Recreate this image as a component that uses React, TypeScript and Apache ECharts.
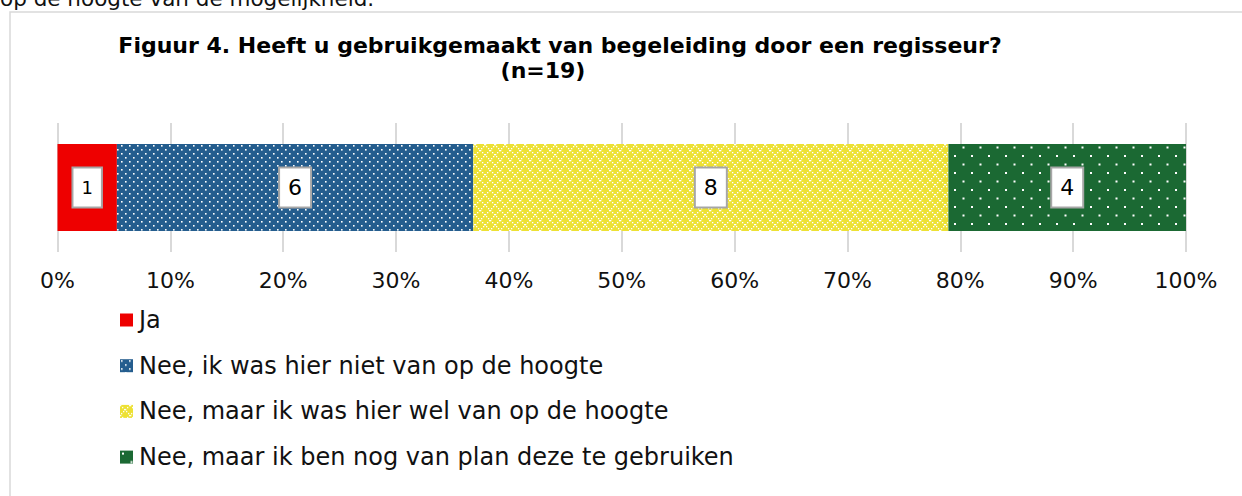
import React, { useEffect, useRef } from "react";
import * as echarts from "echarts";

const categories = ["Begeleiding door regisseur"];
const seriesNames = [
  "Ja",
  "Nee, ik was hier niet van op de hoogte",
  "Nee, maar ik was hier wel van op de hoogte",
  "Nee, maar ik ben nog van plan deze te gebruiken",
];
const counts = [1, 6, 8, 4];
const tickValues = [0, 10, 20, 30, 40, 50, 60, 70, 80, 90, 100];
const titleLine1 = "Figuur 4. Heeft u gebruikgemaakt van begeleiding door een regisseur?";
const titleLine2 = "(n=19)";
const topText = "op de hoogte van de mogelijkheid.";

const FONT = "DejaVu Sans";

function makeCanvas(w: number, h: number, bg: string) {
  const c = document.createElement("canvas");
  c.width = w;
  c.height = h;
  const ctx = c.getContext("2d")!;
  ctx.fillStyle = bg;
  ctx.fillRect(0, 0, w, h);
  return { c, ctx };
}

function bluePattern() {
  const { c, ctx } = makeCanvas(8, 8, "#245D8E");
  ctx.fillStyle = "#ffffff";
  ctx.fillRect(1, 1, 1.6, 1.6);
  ctx.fillRect(5, 5, 1.6, 1.6);
  return { image: c, repeat: "repeat" as const, imageWidth: 8, imageHeight: 8 };
}

function yellowPattern() {
  const { c, ctx } = makeCanvas(10, 10, "#EDE134");
  ctx.fillStyle = "#ffffff";
  for (let i = 0; i < 10; i += 2) {
    ctx.fillRect(i, i, 1.3, 1.3);
    ctx.fillRect(9 - i, i, 1.3, 1.3);
  }
  return { image: c, repeat: "repeat" as const, imageWidth: 10, imageHeight: 10 };
}

function greenPattern() {
  const { c, ctx } = makeCanvas(17, 17, "#1B6933");
  ctx.fillStyle = "#ffffff";
  ctx.fillRect(2, 2, 2, 2);
  ctx.fillRect(10.5, 10.5, 2, 2);
  return { image: c, repeat: "repeat" as const, imageWidth: 17, imageHeight: 17 };
}

export default function App() {
  const ref = useRef<HTMLDivElement>(null);

  useEffect(() => {
    if (!ref.current) return;
    const chart = echarts.init(ref.current, undefined, { renderer: "svg" });
    const total = counts.reduce((a, b) => a + b, 0);
    const fills: any[] = ["#EE0000", bluePattern(), yellowPattern(), greenPattern()];

    const series = seriesNames.map((name, i) => ({
      name,
      type: "bar",
      stack: "total",
      barWidth: 87,
      data: [(counts[i] / total) * 100],
      itemStyle: { color: fills[i] },
      label: {
        show: true,
        position: "inside",
        formatter: () => String(counts[i]),
        fontFamily: FONT,
        fontSize: counts[i] === 1 ? 18 : 22,
        lineHeight: 24,
        color: "#000",
        backgroundColor: "#ffffff",
        borderColor: "#a6a6a6",
        borderWidth: 2,
        padding: [7, 8, 7, 8],
      },
    }));

    chart.setOption({
      animation: false,
      backgroundColor: "#ffffff",
      grid: { left: 57.5, right: 56, top: 123, bottom: 244, containLabel: false },
      xAxis: {
        type: "value",
        min: tickValues[0],
        max: tickValues[tickValues.length - 1],
        interval: tickValues[1] - tickValues[0],
        axisLine: { show: false },
        axisTick: { show: false },
        splitLine: { show: true, lineStyle: { color: "#d9d9d9", width: 2 } },
        axisLabel: {
          formatter: "{value}%",
          fontFamily: FONT,
          fontSize: 22,
          color: "#111",
          margin: 17,
        },
      },
      yAxis: { type: "category", data: categories, show: false },
      legend: {
        orient: "vertical",
        left: 115,
        top: 301,
        padding: 5,
        itemWidth: 13,
        itemHeight: 13,
        itemGap: 17.7,
        icon: "rect",
        data: seriesNames,
        textStyle: { fontFamily: FONT, fontSize: 24, color: "#111", lineHeight: 28, padding: [0, 0, 0, 1] },
      },
      graphic: [
        {
          type: "rect",
          shape: { x: 10, y: 12, width: 1300, height: 600 },
          style: { fill: "none", stroke: "#d9d9d9", lineWidth: 1.5 },
          silent: true,
        },
        {
          type: "text",
          x: 0,
          y: -2,
          style: {
            text: topText,
            fontFamily: FONT,
            fontSize: 21.5,
            fill: "#111",
            textAlign: "left",
            textVerticalAlign: "middle",
          },
        },
        {
          type: "text",
          x: 560,
          y: 45,
          style: {
            text: titleLine1,
            fontFamily: FONT,
            fontSize: 22,
            fontWeight: "bold",
            fill: "#000",
            textAlign: "center",
            textVerticalAlign: "middle",
          },
        },
        {
          type: "text",
          x: 543,
          y: 70,
          style: {
            text: titleLine2,
            fontFamily: FONT,
            fontSize: 22,
            fontWeight: "bold",
            fill: "#000",
            textAlign: "center",
            textVerticalAlign: "middle",
          },
        },
      ],
      series,
    } as any);

    return () => chart.dispose();
  }, []);

  return (
    <div
      ref={ref}
      style={{ position: "fixed", left: 0, top: 0, width: 1242, height: 496 }}
    />
  );
}
